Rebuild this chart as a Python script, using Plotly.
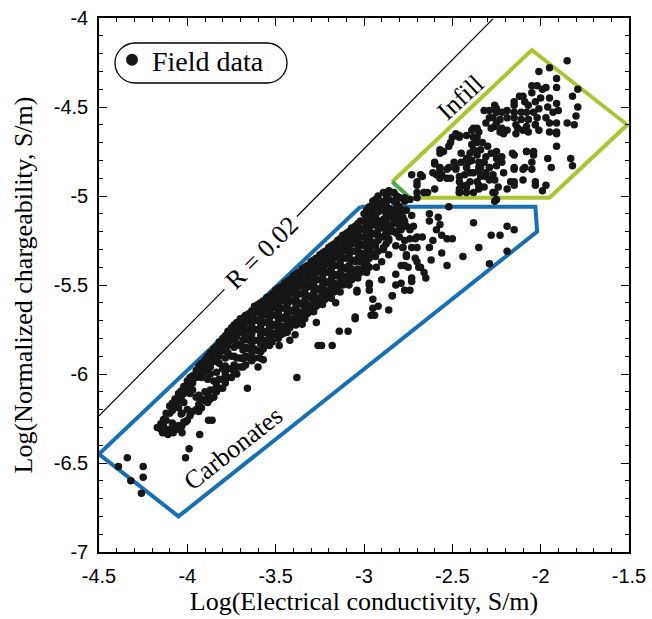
import plotly.graph_objects as go

# ---------------------------------------------------------------------------
# Field data: log10 electrical conductivity (x) vs log10 normalized
# chargeability (y)
# ---------------------------------------------------------------------------

# Main carbonate trend: conductivity value and the chargeability values at it
band_columns = [
    (-4.15, [-6.28, -6.31]),
    (-4.12, [-6.22, -6.26, -6.32]),
    (-4.10, [-6.18, -6.22, -6.31]),
    (-4.07, [-6.14, -6.18, -6.31]),
    (-4.05, [-6.11, -6.15, -6.19, -6.29]),
    (-4.02, [-6.07, -6.11, -6.16, -6.27]),
    (-4.00, [-6.04, -6.08, -6.20, -6.26]),
    (-3.97, [-6.01, -6.05, -6.09, -6.21]),
    (-3.95, [-5.98, -6.02, -6.13, -6.20]),
    (-3.92, [-5.94, -5.98, -6.02, -6.14, -6.19]),
    (-3.90, [-5.92, -5.95, -5.99, -6.10, -6.15]),
    (-3.87, [-5.88, -5.92, -5.96, -6.00, -6.09, -6.14]),
    (-3.85, [-5.86, -5.89, -5.93, -6.04, -6.09, -6.13]),
    (-3.82, [-5.82, -5.86, -5.90, -5.94, -6.03, -6.08]),
    (-3.80, [-5.80, -5.83, -5.87, -5.97, -6.03, -6.08]),
    (-3.77, [-5.76, -5.80, -5.84, -5.88, -5.97, -6.02]),
    (-3.75, [-5.74, -5.77, -5.81, -5.90, -5.97, -6.02]),
    (-3.72, [-5.71, -5.75, -5.79, -5.83, -5.91, -5.96, -6.00]),
    (-3.70, [-5.69, -5.72, -5.76, -5.84, -5.91, -5.96]),
    (-3.67, [-5.67, -5.71, -5.75, -5.79, -5.85, -5.90, -5.95]),
    (-3.65, [-5.66, -5.70, -5.75, -5.81, -5.86, -5.91]),
    (-3.62, [-5.62, -5.66, -5.70, -5.75, -5.81, -5.86, -5.91]),
    (-3.60, [-5.61, -5.65, -5.70, -5.75, -5.81, -5.87]),
    (-3.57, [-5.59, -5.63, -5.67, -5.71, -5.76, -5.81, -5.86]),
    (-3.55, [-5.57, -5.61, -5.66, -5.71, -5.77, -5.83]),
    (-3.52, [-5.55, -5.59, -5.63, -5.67, -5.72, -5.77, -5.82]),
    (-3.50, [-5.53, -5.57, -5.62, -5.67, -5.73, -5.78]),
    (-3.47, [-5.51, -5.55, -5.59, -5.63, -5.68, -5.73, -5.78]),
    (-3.45, [-5.49, -5.53, -5.58, -5.63, -5.69, -5.75]),
    (-3.42, [-5.47, -5.51, -5.55, -5.59, -5.64, -5.69, -5.74]),
    (-3.40, [-5.45, -5.49, -5.54, -5.59, -5.65, -5.71]),
    (-3.37, [-5.43, -5.47, -5.51, -5.55, -5.60, -5.65, -5.70]),
    (-3.35, [-5.41, -5.45, -5.50, -5.55, -5.61, -5.67]),
    (-3.32, [-5.39, -5.43, -5.47, -5.51, -5.56, -5.61, -5.66]),
    (-3.30, [-5.37, -5.41, -5.46, -5.51, -5.57, -5.63]),
    (-3.27, [-5.35, -5.39, -5.43, -5.47, -5.52, -5.57, -5.62]),
    (-3.25, [-5.33, -5.37, -5.42, -5.47, -5.53, -5.59]),
    (-3.22, [-5.31, -5.35, -5.39, -5.43, -5.48, -5.53, -5.58]),
    (-3.20, [-5.29, -5.33, -5.38, -5.43, -5.49, -5.55]),
    (-3.17, [-5.27, -5.31, -5.35, -5.39, -5.44, -5.49, -5.54]),
    (-3.15, [-5.25, -5.29, -5.34, -5.39, -5.45, -5.51]),
    (-3.12, [-5.22, -5.27, -5.31, -5.35, -5.40, -5.45, -5.50]),
    (-3.10, [-5.21, -5.25, -5.30, -5.35, -5.41, -5.47]),
    (-3.07, [-5.18, -5.23, -5.27, -5.31, -5.36, -5.41, -5.47]),
    (-3.05, [-5.17, -5.21, -5.26, -5.31, -5.37, -5.44]),
    (-3.02, [-5.14, -5.19, -5.23, -5.27, -5.32, -5.37, -5.43]),
    (-3.00, [-5.10, -5.14, -5.18, -5.23, -5.28, -5.34, -5.40]),
    (-2.97, [-5.06, -5.10, -5.14, -5.19, -5.24, -5.29, -5.35, -5.40]),
    (-2.95, [-5.03, -5.07, -5.11, -5.16, -5.21, -5.26, -5.32]),
    (-2.92, [-5.00, -5.04, -5.09, -5.14, -5.19, -5.25, -5.31]),
    (-2.89, [-4.98, -5.03, -5.08, -5.13, -5.18, -5.23, -5.30]),
    (-2.86, [-4.97, -5.02, -5.07, -5.12, -5.17, -5.24]),
    (-2.83, [-4.98, -5.03, -5.08, -5.13, -5.20]),
    (-2.80, [-5.01, -5.06, -5.11, -5.17]),
    (-2.77, [-5.03, -5.08, -5.14]),
]

# Further samples inside the same trend
band_fill = [
    (-4.135, [-6.255, -6.29]),
    (-4.085, [-6.165, -6.205, -6.275]),
    (-4.035, [-6.095, -6.135, -6.225, -6.30]),
    (-3.985, [-6.02, -6.065, -6.11, -6.235]),
    (-3.935, [-5.955, -6.00, -6.12, -6.17, -6.21]),
    (-3.885, [-5.90, -5.94, -5.985, -6.03, -6.115, -6.16]),
    (-3.835, [-5.845, -5.885, -5.925, -5.99, -6.06, -6.10]),
    (-3.785, [-5.785, -5.825, -5.865, -5.91, -5.955, -6.00, -6.05]),
    (-3.735, [-5.725, -5.765, -5.805, -5.85, -5.90, -5.95, -5.99]),
    (-3.685, [-5.685, -5.725, -5.77, -5.81, -5.865, -5.915, -5.96]),
    (-3.635, [-5.645, -5.685, -5.73, -5.775, -5.83, -5.875, -5.925]),
    (-3.585, [-5.60, -5.64, -5.685, -5.73, -5.78, -5.83, -5.875]),
    (-3.535, [-5.565, -5.605, -5.645, -5.69, -5.74, -5.79, -5.84]),
    (-3.485, [-5.52, -5.56, -5.605, -5.65, -5.70, -5.75, -5.80]),
    (-3.435, [-5.48, -5.52, -5.565, -5.61, -5.66, -5.715, -5.765]),
    (-3.385, [-5.44, -5.48, -5.525, -5.57, -5.62, -5.675, -5.725]),
    (-3.335, [-5.40, -5.44, -5.485, -5.53, -5.585, -5.64, -5.69]),
    (-3.285, [-5.36, -5.40, -5.445, -5.49, -5.545, -5.60, -5.65]),
    (-3.235, [-5.32, -5.36, -5.405, -5.455, -5.505, -5.56, -5.61]),
    (-3.185, [-5.28, -5.32, -5.365, -5.415, -5.465, -5.52, -5.575]),
    (-3.135, [-5.24, -5.28, -5.325, -5.375, -5.43, -5.485, -5.54]),
    (-3.085, [-5.20, -5.24, -5.285, -5.335, -5.39, -5.445, -5.50]),
    (-3.035, [-5.155, -5.20, -5.245, -5.295, -5.35, -5.41, -5.46]),
    (-2.985, [-5.08, -5.125, -5.165, -5.21, -5.26, -5.315, -5.375, -5.43]),
    (-2.935, [-5.02, -5.065, -5.115, -5.165, -5.215, -5.28, -5.34]),
    (-2.875, [-4.99, -5.05, -5.10, -5.15, -5.21, -5.27]),
    (-2.815, [-5.00, -5.045, -5.095, -5.15, -5.21]),
]

# Low-conductivity tail of the trend
tail_points = [
    (-4.17, -6.30), (-4.14, -6.33), (-4.11, -6.34), (-4.08, -6.33),
    (-4.05, -6.31), (-4.03, -6.29), (-4.01, -6.27), (-4.03, -6.22),
    (-4.03, -6.33), (-3.99, -6.42), (-4.01, -6.47), (-3.93, -6.34),
    (-3.88, -6.26), (-3.86, -6.26),
]

# Isolated low-conductivity samples
low_outliers = [
    (-4.39, -6.52), (-4.34, -6.47), (-4.25, -6.52), (-4.25, -6.58),
    (-4.32, -6.60), (-4.26, -6.67),
]

# Samples scattered below the main trend
below_trend = [
    (-3.48, -5.84), (-3.42, -5.81), (-3.45, -5.77), (-3.39, -5.78),
    (-3.53, -5.80), (-3.59, -5.91), (-3.57, -5.92), (-3.60, -5.96),
    (-3.38, -6.02), (-3.66, -6.08), (-3.35, -5.72), (-3.26, -5.84),
    (-3.27, -5.71), (-3.24, -5.84), (-3.18, -5.84), (-3.14, -5.76),
    (-3.09, -5.76), (-3.05, -5.69), (-3.16, -5.60), (-3.04, -5.54),
    (-2.96, -5.67), (-2.95, -5.63), (-2.84, -5.56), (-2.97, -5.50),
]

# Transition between carbonates and infill
transition_points = [
    (-2.97, -5.10), (-2.93, -5.08), (-2.90, -5.04), (-2.86, -5.02),
    (-2.82, -5.02), (-2.77, -5.01), (-2.74, -5.02), (-2.70, -5.01),
    (-2.95, -5.15), (-2.91, -5.15), (-2.87, -5.12), (-2.84, -5.10),
    (-2.80, -5.09), (-2.76, -5.08), (-2.73, -5.11), (-2.80, -5.23),
    (-2.77, -5.25), (-2.74, -5.24), (-2.70, -5.23), (-2.86, -5.25),
    (-2.82, -5.28), (-2.78, -5.29), (-2.73, -5.29), (-2.70, -5.29),
    (-2.71, -5.35), (-2.76, -5.34), (-2.69, -5.40), (-2.86, -5.33),
    (-2.90, -5.37), (-2.93, -5.40), (-2.77, -5.39), (-2.82, -5.44),
    (-2.73, -5.46), (-2.90, -5.47), (-2.97, -5.49), (-2.82, -5.50),
    (-2.77, -5.53), (-2.84, -5.56), (-2.97, -5.53), (-2.95, -5.58),
    (-2.92, -5.62), (-2.86, -5.64), (-2.94, -5.67), (-3.04, -5.53),
    (-3.05, -5.68), (-2.99, -5.42), (-2.88, -5.18), (-2.84, -5.16),
    (-2.80, -5.15), (-2.76, -5.17), (-2.72, -5.17), (-2.88, -5.22),
    (-2.92, -5.22), (-2.94, -5.28), (-2.89, -5.29), (-2.85, -5.20),
    (-2.79, -5.19), (-2.87, -5.01), (-2.84, -4.98), (-2.80, -5.01),
    (-2.90, -5.06),
]

# Higher-conductivity carbonate samples
right_scatter = [
    (-2.78, -5.12), (-2.63, -5.10), (-2.63, -5.14), (-2.58, -5.12),
    (-2.57, -5.16), (-2.74, -5.19), (-2.59, -5.19), (-2.56, -5.22),
    (-2.71, -5.24), (-2.67, -5.23), (-2.61, -5.25), (-2.53, -5.24),
    (-2.50, -5.24), (-2.38, -5.15), (-2.28, -5.22), (-2.23, -5.22),
    (-2.19, -5.17), (-2.15, -5.19), (-2.35, -5.29), (-2.44, -5.34),
    (-2.19, -5.31), (-2.29, -5.38), (-2.56, -5.32), (-2.62, -5.36),
    (-2.53, -5.39), (-2.70, -5.37), (-2.68, -5.40), (-2.66, -5.43),
    (-2.65, -5.46), (-2.63, -5.29), (-2.78, -5.29), (-2.76, -5.33),
    (-2.79, -5.39), (-2.75, -5.40), (-2.73, -5.48), (-2.74, -5.53),
    (-2.79, -5.49), (-2.52, -5.06), (-2.25, -5.02),
]

# Infill samples
infill_points = [
    (-1.85, -4.24), (-2.01, -4.30), (-1.95, -4.28), (-1.91, -4.34),
    (-1.91, -4.39), (-1.99, -4.40), (-1.79, -4.40), (-1.82, -4.44),
    (-1.79, -4.50), (-1.80, -4.55), (-1.85, -4.59), (-1.81, -4.60),
    (-1.91, -4.64), (-2.02, -4.38), (-2.05, -4.38), (-1.97, -4.39),
    (-2.05, -4.42), (-2.12, -4.44), (-2.09, -4.47), (-2.15, -4.49),
    (-2.07, -4.49), (-2.03, -4.47), (-2.00, -4.45), (-1.95, -4.45),
    (-1.91, -4.48), (-1.96, -4.50), (-2.01, -4.51), (-2.04, -4.53),
    (-2.08, -4.53), (-2.11, -4.53), (-2.15, -4.53), (-2.19, -4.52),
    (-2.22, -4.53), (-2.25, -4.53), (-2.29, -4.52), (-2.32, -4.52),
    (-2.27, -4.56), (-2.23, -4.57), (-2.19, -4.56), (-2.15, -4.56),
    (-2.11, -4.57), (-2.07, -4.57), (-2.02, -4.56), (-1.97, -4.56),
    (-1.93, -4.53), (-1.90, -4.52), (-1.95, -4.59), (-2.03, -4.60),
    (-2.08, -4.61), (-2.13, -4.62), (-2.19, -4.63), (-2.23, -4.64),
    (-2.28, -4.62), (-2.31, -4.59), (-2.36, -4.62), (-2.38, -4.67),
    (-2.42, -4.66), (-2.46, -4.66), (-2.14, -4.65), (-2.07, -4.64),
    (-2.01, -4.63), (-1.95, -4.64), (-1.91, -4.59), (-2.26, -4.49),
    (-2.25, -4.51), (-2.15, -4.47), (-2.10, -4.44), (-2.26, -4.61),
    (-1.83, -4.79), (-1.82, -4.83), (-1.91, -4.72), (-1.91, -4.65),
    (-1.96, -4.79), (-1.94, -4.84), (-1.97, -4.94), (-2.03, -4.94),
    (-1.99, -4.97), (-2.04, -4.77), (-2.05, -4.81), (-2.09, -4.84),
    (-2.08, -4.75), (-2.15, -4.77), (-2.15, -4.84), (-2.17, -4.92),
    (-2.27, -4.98), (-2.26, -5.03), (-2.10, -4.91), (-2.73, -4.88),
    (-2.67, -4.89), (-2.70, -4.92), (-2.70, -4.98), (-2.66, -4.98),
    (-2.64, -4.98), (-2.60, -4.81), (-2.57, -4.76), (-2.55, -4.75),
    (-2.61, -4.87), (-2.57, -4.85), (-2.56, -4.88), (-2.53, -4.90),
    (-2.59, -4.88), (-2.50, -4.67), (-2.47, -4.66), (-2.51, -4.70),
    (-2.45, -4.76), (-2.40, -4.76), (-2.49, -4.81), (-2.52, -4.84),
    (-2.48, -4.85), (-2.46, -4.89), (-2.43, -4.88), (-2.42, -4.84),
    (-2.45, -4.81), (-2.41, -4.81), (-2.45, -4.94), (-2.42, -4.95),
    (-2.46, -4.98), (-2.38, -4.62), (-2.35, -4.64), (-2.36, -4.67),
    (-2.33, -4.70), (-2.36, -4.70), (-2.39, -4.71), (-2.38, -4.74),
    (-2.34, -4.74), (-2.30, -4.72), (-2.28, -4.76), (-2.25, -4.75),
    (-2.22, -4.78), (-2.39, -4.80), (-2.35, -4.81), (-2.32, -4.81),
    (-2.29, -4.84), (-2.34, -4.84), (-2.38, -4.87), (-2.34, -4.89),
    (-2.31, -4.87), (-2.29, -4.91), (-2.36, -4.92), (-2.32, -4.95),
    (-2.27, -4.88), (-2.25, -4.83), (-2.22, -4.81), (-2.21, -4.87),
    (-2.42, -4.98), (-2.38, -4.98), (-2.26, -4.98), (-2.16, -4.76),
    (-2.15, -4.85), (-2.10, -4.85), (-2.05, -4.85), (-2.08, -4.75),
    (-2.04, -4.75), (-2.15, -4.92), (-2.03, -4.92), (-2.29, -4.56),
    (-2.25, -4.59), (-2.22, -4.62), (-2.21, -4.65), (-2.14, -4.60),
    (-2.10, -4.63), (-2.07, -4.57), (-2.03, -4.60), (-2.48, -4.65),
    (-2.46, -4.67), (-2.39, -4.63), (-2.38, -4.67), (-2.52, -4.72),
    (-2.57, -4.74), (-2.60, -4.82), (-2.57, -4.84), (-2.53, -4.85),
    (-2.48, -4.84), (-2.42, -4.79), (-2.36, -4.77), (-2.35, -4.84),
    (-2.31, -4.78), (-2.29, -4.84), (-2.25, -4.79), (-2.40, -4.87),
    (-2.35, -4.86), (-2.31, -4.89), (-2.26, -4.91), (-2.40, -4.92),
    (-2.46, -4.92), (-2.51, -4.90), (-2.68, -4.88), (-2.70, -4.94),
    (-2.66, -4.98), (-2.46, -4.98), (-2.35, -4.96), (-2.26, -4.98),
    (-2.15, -4.94), (-2.57, -4.90), (-2.60, -4.96), (-2.46, -4.96),
    (-2.42, -4.94), (-2.35, -4.94), (-2.24, -4.95), (-2.19, -4.96),
]

column_groups = [band_columns, band_fill]
point_groups = [tail_points, low_outliers, below_trend, transition_points,
                right_scatter, infill_points]

field_x, field_y = [], []
for columns in column_groups:
    for x, ys in columns:
        field_x += [x] * len(ys)
        field_y += list(ys)
for group in point_groups:
    field_x += [p[0] for p in group]
    field_y += [p[1] for p in group]

# Facies envelopes (closed polygons)
carbonate_x = [-3.02, -2.03, -2.02, -4.05, -4.50, -3.02]
carbonate_y = [-5.06, -5.06, -5.20, -6.80, -6.45, -5.06]
infill_x = [-2.74, -1.95, -1.51, -2.05, -2.84]
infill_y = [-5.01, -5.01, -4.60, -4.18, -4.92]
infill_join_x = [-2.84, -2.74]
infill_join_y = [-4.92, -5.01]

# R = 0.02 reference line, interrupted where it is labelled
r_line_x = [-4.50, -3.79, None, -3.38, -2.27]
r_line_y = [-6.235, -5.525, None, -5.115, -4.005]

# Axis ticks
x_ticks = [-4.5, -4.0, -3.5, -3.0, -2.5, -2.0, -1.5]
x_tick_text = ["-4.5", "-4", "-3.5", "-3", "-2.5", "-2", "-1.5"]
y_ticks = [-7.0, -6.5, -6.0, -5.5, -5.0, -4.5, -4.0]
y_tick_text = ["-7", "-6.5", "-6", "-5.5", "-5", "-4.5", "-4"]

SERIF = "Liberation Serif, Times New Roman, serif"
SANS = "Liberation Sans, Arial, sans-serif"
BLUE = "#1770b6"
LIME = "#a9c52f"
GREEN = "#4caa44"

fig = go.Figure()

fig.add_trace(go.Scatter(
    x=r_line_x, y=r_line_y, mode="lines",
    line=dict(color="black", width=1.2), showlegend=False, hoverinfo="skip"))
fig.add_trace(go.Scatter(
    x=carbonate_x, y=carbonate_y, mode="lines",
    line=dict(color=BLUE, width=4), showlegend=False, hoverinfo="skip"))
fig.add_trace(go.Scatter(
    x=infill_x, y=infill_y, mode="lines",
    line=dict(color=LIME, width=4), showlegend=False, hoverinfo="skip"))
fig.add_trace(go.Scatter(
    x=infill_join_x, y=infill_join_y, mode="lines",
    line=dict(color=GREEN, width=4), showlegend=False, hoverinfo="skip"))

fig.add_trace(go.Scatter(
    x=field_x, y=field_y, mode="markers", name="Field data",
    marker=dict(color="#161616", size=7.5, line=dict(width=0))))


def paper_x(px):
    return (px - 99) / 530


def paper_y(py):
    return (552 - py) / 534


# Rounded frame around the legend
l, r, t, b, k = 115, 287, 43, 83, 11
legend_frame = (
    f"M {paper_x(l + 20)},{paper_y(t)} L {paper_x(r - 20)},{paper_y(t)} "
    f"C {paper_x(r - 20 + k)},{paper_y(t)} {paper_x(r)},{paper_y(t + 20 - k)} {paper_x(r)},{paper_y(t + 20)} "
    f"C {paper_x(r)},{paper_y(t + 20 + k)} {paper_x(r - 20 + k)},{paper_y(b)} {paper_x(r - 20)},{paper_y(b)} "
    f"L {paper_x(l + 20)},{paper_y(b)} "
    f"C {paper_x(l + 20 - k)},{paper_y(b)} {paper_x(l)},{paper_y(t + 20 + k)} {paper_x(l)},{paper_y(t + 20)} "
    f"C {paper_x(l)},{paper_y(t + 20 - k)} {paper_x(l + 20 - k)},{paper_y(t)} {paper_x(l + 20)},{paper_y(t)} Z"
)
fig.add_shape(type="path", path=legend_frame, xref="paper", yref="paper",
              line=dict(color="black", width=1.3))

label_font = dict(family=SERIF, size=26, color="black")
fig.add_annotation(x=-3.579, y=-5.315, text="R = 0.02", showarrow=False,
                   textangle=-45, font=label_font)
fig.add_annotation(x=-2.455, y=-4.444, text="Infill", showarrow=False,
                   textangle=-43, font=label_font)
fig.add_annotation(x=-3.74, y=-6.42, text="Carbonates", showarrow=False,
                   textangle=-38, font=label_font)

axis_common = dict(
    showline=True, linecolor="black", linewidth=1.5, mirror="ticks",
    ticks="inside", ticklen=8, tickwidth=1.2, tickcolor="black",
    showgrid=False, zeroline=False, ticklabelstandoff=5,
    tickfont=dict(family=SANS, size=20, color="black"),
)

fig.update_xaxes(
    range=[-4.5, -1.5], tickvals=x_ticks, ticktext=x_tick_text,
    minor=dict(ticks="inside", ticklen=4, tickwidth=1, tickcolor="black",
               tick0=-4.5, dtick=0.1),
    title=dict(text="Log(Electrical conductivity, S/m)",
               font=dict(family=SERIF, size=26, color="black"), standoff=6),
    **axis_common)
fig.update_yaxes(
    range=[-7, -4], tickvals=y_ticks, ticktext=y_tick_text,
    minor=dict(ticks="inside", ticklen=4, tickwidth=1, tickcolor="black",
               tick0=-7, dtick=0.1),
    title=dict(text="Log(Normalized chargeability, S/m)",
               font=dict(family=SERIF, size=26, color="black"), standoff=14),
    **axis_common)

fig.update_layout(
    width=652, height=619,
    margin=dict(l=99, r=23, t=18, b=67, autoexpand=False),
    paper_bgcolor="white", plot_bgcolor="white",
    showlegend=True,
    legend=dict(x=paper_x(112), y=paper_y(60), xanchor="left", yanchor="middle",
                bgcolor="rgba(0,0,0,0)", borderwidth=0,
                font=dict(family=SERIF, size=28, color="black"),
                itemsizing="constant"),
)

fig.write_html("out.html")
